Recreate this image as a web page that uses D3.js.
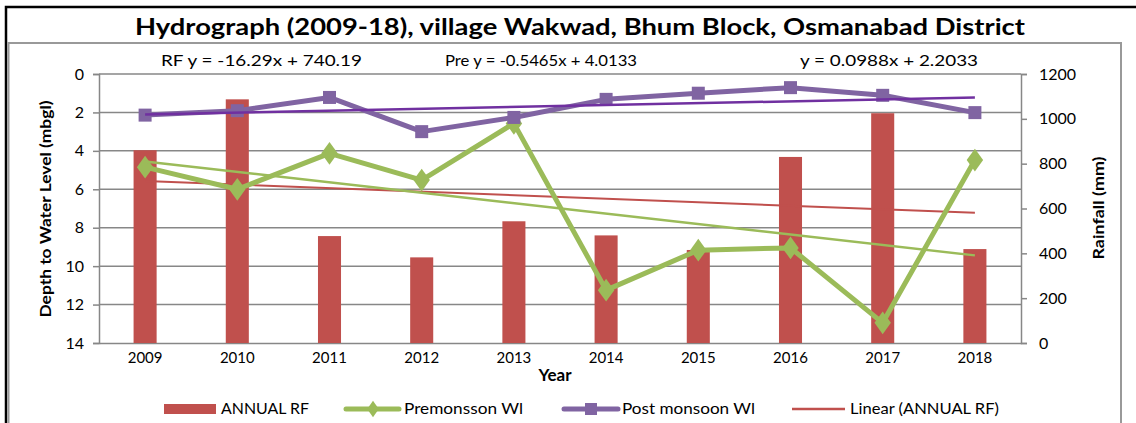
<!DOCTYPE html>
<html>
<head>
<meta charset="utf-8">
<script src="https://cdn.jsdelivr.net/npm/d3@7"></script>
<style>
  body { margin: 0; background: #fff; }
  text { font-family: Lato, "Open Sans", sans-serif; fill: #000; }
</style>
</head>
<body>
<div id="chart"></div>
<script>
// data
var years = ["2009", "2010", "2011", "2012", "2013", "2014", "2015", "2016", "2017", "2018"];
var annualRF = [860, 1087, 477, 382, 543, 480, 415, 830, 1025, 419];
var preWL = [4.85, 6.0, 4.13, 5.52, 2.57, 11.25, 9.17, 9.05, 12.95, 4.48];
var postWL = [2.14, 1.91, 1.22, 3.0, 2.26, 1.32, 1.0, 0.71, 1.11, 2.01];
var leftTicks = [0, 2, 4, 6, 8, 10, 12, 14];
var rightTicks = [0, 200, 400, 600, 800, 1000, 1200];
var equations = ["RF y = -16.29x + 740.19", "Pre y = -0.5465x + 4.0133", "y = 0.0988x + 2.2033"];

var W = 1136, H = 423;
var svg = d3.select("#chart").append("svg")
        .attr("width", W)
        .attr("height", H);

var red = "#C0504D", green = "#9BBB59", purple = "#8064A2", grid = "#878787";

// outer frames
svg.append("path")
        .attr("d", "M6,423 V7 H1136")
        .attr("fill", "none")
        .attr("stroke", "#000")
        .attr("stroke-width", 2.5);
svg.append("path")
        .attr("d", "M8.5,423 V43 H1121 V423")
        .attr("fill", "none")
        .attr("stroke", "#999")
        .attr("stroke-width", 2);

var x = d3.scaleBand().domain(years).range([99, 1021]);
var yL = d3.scaleLinear().domain([0, 14]).range([74, 343]);
var yR = d3.scaleLinear().domain([0, 1200]).range([343, 74]);
var cx = function (d, i) { return x(years[i]) + x.bandwidth() / 2; };

// gridlines
svg.append("g").selectAll("line").data(leftTicks.slice(0, -1)).join("line")
        .attr("x1", 99).attr("x2", 1021)
        .attr("y1", function (d) { return yL(d); })
        .attr("y2", function (d) { return yL(d); })
        .attr("stroke", grid)
        .attr("stroke-width", 1.5);

// axes
var axL = svg.append("g").attr("transform", "translate(99,0)")
        .call(d3.axisLeft(yL).tickValues(leftTicks).tickSize(6).tickPadding(9));
var axR = svg.append("g").attr("transform", "translate(1021,0)")
        .call(d3.axisRight(yR).tickValues(rightTicks).tickFormat(d3.format("d")).tickSize(6).tickPadding(12));
var axB = svg.append("g").attr("transform", "translate(0,343)")
        .call(d3.axisBottom(x).tickSize(0).tickPadding(9));
[axL, axR, axB].forEach(function (a) {
    a.select(".domain").attr("stroke", grid).attr("stroke-width", 1.5);
    a.selectAll(".tick line").attr("stroke", grid).attr("stroke-width", 1.5);
    a.selectAll("text").attr("font-size", 16).attr("font-family", "Lato, sans-serif").attr("fill", "#000");
});
axB.selectAll("text").attr("font-size", 15);

// bars
var bw = x.bandwidth() * 0.25;
svg.append("g").selectAll("rect").data(annualRF).join("rect")
        .attr("x", function (d, i) { return cx(d, i) - bw / 2; })
        .attr("y", function (d) { return yR(d); })
        .attr("width", bw)
        .attr("height", function (d) { return yR(0) - yR(d); })
        .attr("fill", red);

function trend(vals) {
    var n = vals.length, mx = (n + 1) / 2, my = d3.mean(vals), sxy = 0, sxx = 0;
    vals.forEach(function (v, i) { sxy += (i + 1 - mx) * (v - my); sxx += (i + 1 - mx) * (i + 1 - mx); });
    var b = sxy / sxx, a = my - b * mx;
    return [a + b, a + b * n];
}

function trendLine(vals, scale, color, w) {
    var t = trend(vals);
    svg.append("line")
            .attr("x1", cx(0, 0)).attr("x2", cx(0, vals.length - 1))
            .attr("y1", scale(t[0])).attr("y2", scale(t[1]))
            .attr("stroke", color)
            .attr("stroke-width", w);
}

trendLine(annualRF, yR, red, 2);

var line = function (scale) {
    return d3.line().x(cx).y(function (d) { return scale(d); });
};

// pre monsoon series
svg.append("path").datum(preWL)
        .attr("d", line(yL))
        .attr("fill", "none")
        .attr("stroke", green)
        .attr("stroke-width", 5)
        .attr("stroke-linejoin", "round");
svg.append("g").selectAll("path").data(preWL).join("path")
        .attr("d", d3.symbol(d3.symbolDiamond, 150))
        .attr("transform", function (d, i) { return "translate(" + cx(d, i) + "," + yL(d) + ") scale(1.25,1)"; })
        .attr("fill", green);

// post monsoon series
svg.append("path").datum(postWL)
        .attr("d", line(yL))
        .attr("fill", "none")
        .attr("stroke", purple)
        .attr("stroke-width", 5)
        .attr("stroke-linejoin", "round");
svg.append("g").selectAll("rect").data(postWL).join("rect")
        .attr("x", function (d, i) { return cx(d, i) - 6.5; })
        .attr("y", function (d) { return yL(d) - 6.5; })
        .attr("width", 13).attr("height", 13)
        .attr("fill", purple);

trendLine(preWL, yL, green, 2.5);
trendLine(postWL, yL, "#7030A0", 2.5);

// titles
svg.append("text")
        .attr("x", 580).attr("y", 35)
        .attr("text-anchor", "middle")
        .attr("font-size", 23).attr("font-weight", "bold")
        .attr("textLength", 890).attr("lengthAdjust", "spacingAndGlyphs")
        .text("Hydrograph (2009-18), village Wakwad, Bhum Block, Osmanabad District");

var eqPos = [[161, 201], [445, 192], [800, 178]];
svg.append("g").selectAll("text").data(equations).join("text")
        .attr("x", function (d, i) { return eqPos[i][0]; })
        .attr("y", 66)
        .attr("font-size", 16)
        .attr("textLength", function (d, i) { return eqPos[i][1]; })
        .attr("lengthAdjust", "spacingAndGlyphs")
        .text(function (d) { return d; });

svg.append("text")
        .attr("transform", "translate(51,209) rotate(-90)")
        .attr("text-anchor", "middle")
        .attr("font-size", 15).attr("font-weight", "bold")
        .attr("textLength", 217).attr("lengthAdjust", "spacingAndGlyphs")
        .text("Depth to Water Level  (mbgl)");

svg.append("text")
        .attr("transform", "translate(1104,208) rotate(-90)")
        .attr("text-anchor", "middle")
        .attr("font-size", 15).attr("font-weight", "bold")
        .attr("textLength", 103).attr("lengthAdjust", "spacingAndGlyphs")
        .text("Rainfall (mm)");

svg.append("text")
        .attr("x", 555).attr("y", 381)
        .attr("text-anchor", "middle")
        .attr("font-size", 17).attr("font-weight", "bold")
        .text("Year");

// legend
var lg = svg.append("g").attr("font-size", 16);
var ly = 409;
var legText = [[221, 88, "ANNUAL RF"], [404, 119, "Premonsson Wl"], [622, 133, "Post monsoon Wl"], [850, 149, "Linear (ANNUAL RF)"]];
lg.append("rect").attr("x", 164).attr("y", ly - 5).attr("width", 52).attr("height", 10).attr("fill", red);
lg.append("line").attr("x1", 346).attr("x2", 399).attr("y1", ly).attr("y2", ly)
        .attr("stroke", green).attr("stroke-width", 5).attr("stroke-linecap", "round");
lg.append("path").attr("d", d3.symbol(d3.symbolDiamond, 80))
        .attr("transform", "translate(373," + ly + ") scale(1.2,1)").attr("fill", green);
lg.append("line").attr("x1", 564).attr("x2", 618).attr("y1", ly).attr("y2", ly)
        .attr("stroke", purple).attr("stroke-width", 5).attr("stroke-linecap", "round");
lg.append("rect").attr("x", 585).attr("y", ly - 6).attr("width", 12).attr("height", 12).attr("fill", purple);
lg.append("line").attr("x1", 792).attr("x2", 845).attr("y1", ly).attr("y2", ly)
        .attr("stroke", red).attr("stroke-width", 2.5);
lg.selectAll("text").data(legText).join("text")
        .attr("x", function (d) { return d[0]; })
        .attr("y", ly + 5)
        .attr("textLength", function (d) { return d[1]; })
        .attr("lengthAdjust", "spacingAndGlyphs")
        .text(function (d) { return d[2]; });
</script>
</body>
</html>
